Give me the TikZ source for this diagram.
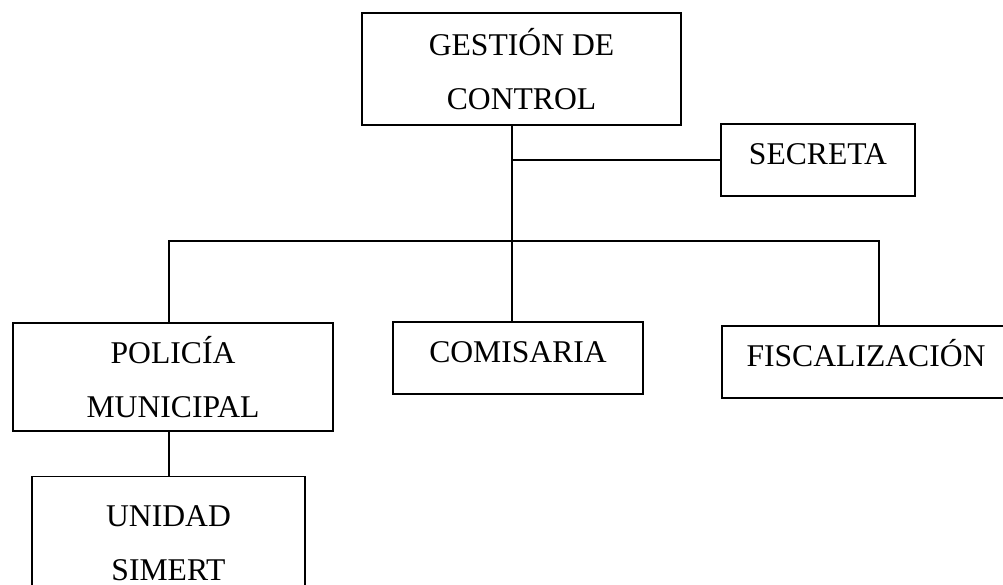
\documentclass[tikz,border=0pt]{standalone}
\usepackage{fontspec}
\setmainfont{Liberation Serif}
\usepackage{tikz}

\begin{document}
\begin{tikzpicture}[x=0.7113pt,y=-0.7113pt,
  unit/.style={draw,line width=1.3pt,inner sep=0pt,align=center,
    font=\fontsize{22.5}{38.4}\selectfont},
  onebox/.style={unit,text height=15pt,text depth=8.5pt},
  link/.style={line width=1.3pt}]
\useasboundingbox (0,0) rectangle (1003,584);
\clip (0,0) rectangle (1003,584);
%top
\node[unit,minimum width=319*0.7113pt,minimum height=112*0.7113pt] (gestion) at (521.5,69) {GESTIÓN DE\\CONTROL};
\node[onebox,minimum width=194*0.7113pt,minimum height=72*0.7113pt] (secreta) at (818,160) {SECRETA};
%second row
\node[unit,minimum width=320*0.7113pt,minimum height=108*0.7113pt] (policia) at (173,377) {POLICÍA\\MUNICIPAL};
\node[onebox,minimum width=250*0.7113pt,minimum height=72*0.7113pt] (comisaria) at (518,358) {COMISARIA};
\node[onebox,minimum width=288*0.7113pt,minimum height=72*0.7113pt] (fiscal) at (866,362) {FISCALIZACIÓN};
%third row
\node[unit,minimum width=273*0.7113pt,minimum height=133*0.7113pt] (unidad) at (168.5,543) {UNIDAD\\SIMERT};
%lines
\coordinate (trunk) at (512,241);
\coordinate (busL) at (169,241);
\coordinate (busR) at (879,241);
\draw[link] (trunk |- gestion.south) -- (trunk |- comisaria.north);
\draw[link] (trunk |- secreta.west) -- (secreta.west);
\draw[link] (policia.north -| busL) -- (busL) -- (busR) -- (fiscal.north -| busR);
\draw[link] (policia.south -| busL) -- (unidad.north -| busL);
\end{tikzpicture}
\end{document}
